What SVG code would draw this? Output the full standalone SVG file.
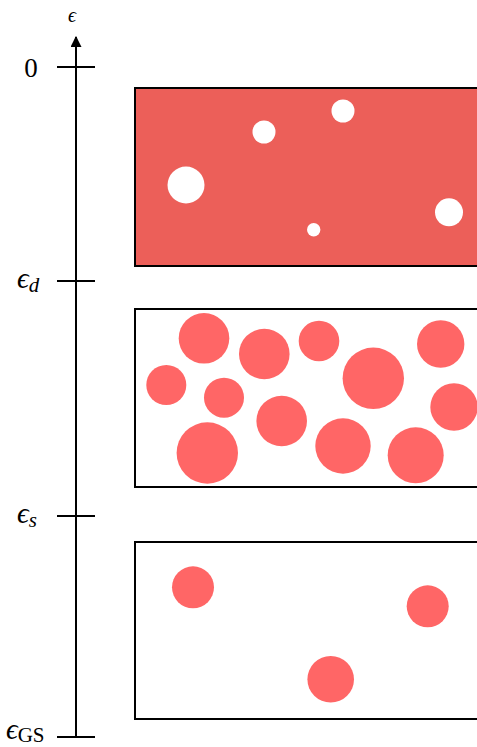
<svg xmlns="http://www.w3.org/2000/svg" width="477" height="747" viewBox="0 0 477 747">
<style>
.ax{stroke:#000;stroke-width:2;fill:none}
.box{stroke:#000;stroke-width:2}
.lab{font-family:"Liberation Serif","DejaVu Serif",serif;fill:#000}
.it{font-style:italic}
.p{fill:#FF6666}
.w{fill:#FFFFFF}
</style>
<defs>
<marker id="ah" viewBox="0 0 10 10" refX="9" refY="5" markerWidth="5.5" markerHeight="5.5" orient="auto" markerUnits="strokeWidth">
<path d="M0,0 L10,5 L0,10 Z" fill="#000"/>
</marker>
</defs>
<g id="axis">
<line class="ax" x1="76" y1="737" x2="76" y2="37" marker-end="url(#ah)"/>
<line class="ax" x1="57" y1="67" x2="95" y2="67"/>
<line class="ax" x1="57" y1="281" x2="95" y2="281"/>
<line class="ax" x1="57" y1="516" x2="95" y2="516"/>
<line class="ax" x1="57" y1="737" x2="95" y2="737"/>
<text class="lab it" x="72" y="22" font-size="20" text-anchor="middle">ϵ</text>
<text class="lab" x="31" y="77" font-size="27" text-anchor="middle">0</text>
<text class="lab" x="17" y="288" font-size="29"><tspan class="it">ϵ</tspan><tspan class="it" font-size="21" dy="4">d</tspan></text>
<text class="lab" x="17" y="523" font-size="29"><tspan class="it">ϵ</tspan><tspan class="it" font-size="21" dy="4">s</tspan></text>
<text class="lab" x="6" y="739" font-size="29"><tspan class="it">ϵ</tspan><tspan font-size="21" dy="3">GS</tspan></text>
</g>
<g id="box-continuum">
<rect class="box" x="135" y="88" width="350" height="178" fill="#EC5F59"/>
<circle class="w" cx="186" cy="185" r="18.5"/>
<circle class="w" cx="264" cy="132" r="11.5"/>
<circle class="w" cx="343" cy="111" r="11.5"/>
<circle class="w" cx="313.7" cy="229.7" r="6.7"/>
<circle class="w" cx="449" cy="212.3" r="14"/>
</g>
<g id="box-dense">
<rect class="box" x="135" y="309" width="350" height="178" fill="#FFFFFF"/>
<circle class="p" cx="204" cy="338.3" r="25.3"/>
<circle class="p" cx="264.3" cy="354" r="25.3"/>
<circle class="p" cx="319" cy="341" r="20.3"/>
<circle class="p" cx="440.7" cy="344" r="23.7"/>
<circle class="p" cx="166.3" cy="385" r="20"/>
<circle class="p" cx="224" cy="397.7" r="20"/>
<circle class="p" cx="373.3" cy="378.3" r="30.7"/>
<circle class="p" cx="454" cy="407" r="23.7"/>
<circle class="p" cx="281.7" cy="421" r="25.3"/>
<circle class="p" cx="207.3" cy="453" r="30.7"/>
<circle class="p" cx="343" cy="446" r="27.7"/>
<circle class="p" cx="415.7" cy="455.3" r="28"/>
</g>
<g id="box-sparse">
<rect class="box" x="135" y="542" width="350" height="177" fill="#FFFFFF"/>
<circle class="p" cx="193" cy="587.3" r="21"/>
<circle class="p" cx="427.7" cy="606.3" r="21"/>
<circle class="p" cx="330.7" cy="679.3" r="23.3"/>
</g>
</svg>
